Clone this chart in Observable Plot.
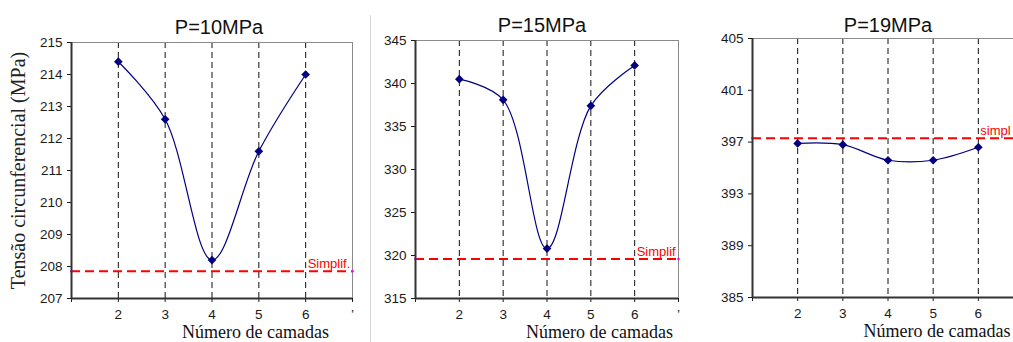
<!DOCTYPE html>
<html>
<head>
<meta charset="utf-8">
<script src="https://cdn.jsdelivr.net/npm/d3@7"></script>
<script src="https://cdn.jsdelivr.net/npm/@observablehq/plot@0.6"></script>
<style>
  html, body { margin: 0; padding: 0; background: #fff; overflow: hidden; }
  #wrap { position: relative; width: 1013px; height: 342px; overflow: hidden; background: #fff; }
  .panel { position: absolute; top: 0; }
  .panel svg { max-width: none !important; }
  #sep { position: absolute; left: 370px; top: 15px; width: 0; height: 327px; border-left: 1px solid #d8d8d8; }
</style>
</head>
<body>
<div id="wrap"><div id="sep"></div></div>
<script>
// ---- data ----
const camadas = [2, 3, 4, 5, 6];
const tensao10 = [214.4, 212.6, 208.2, 211.6, 214.0];
const tensao15 = [340.5, 338.1, 320.8, 337.4, 342.1];
const tensao19 = [396.9, 396.8, 395.6, 395.6, 396.6];
const simplif = [207.85, 319.6, 397.3];
const simplifLabels = ["Simplif.", "Simplif", "simpl"];
const titles = ["P=10MPa", "P=15MPa", "P=19MPa"];
const yTicks10 = [207, 208, 209, 210, 211, 212, 213, 214, 215];
const yTicks15 = [315, 320, 325, 330, 335, 340, 345];
const yTicks19 = [385, 389, 393, 397, 401, 405];
const xTicks = [1, 2, 3, 4, 5, 6, 7];
const xTickLabels = ["", "2", "3", "4", "5", "6", "\u2019"];
const xTickLabelsLast = ["", "2", "3", "4", "5", "6", ""];
const xDomain = [1, 7];
const yLabel = "Tensão circunferencial (MPa)";
const xLabel = "Número de camadas";

const SANS = "Liberation Sans, Arial, sans-serif";
const SERIF = "Liberation Serif, Times New Roman, serif";

const panels = [
  {values: tensao10, yTicks: yTicks10, simp: simplif[0], simpLabel: simplifLabels[0], title: titles[0], xLabs: xTickLabels,
   left: 0, width: 360, mL: 71, mR: 8, mT: 42, mB: 44, titleDx: 7, titleDy: -15, xlDx: 43.5, yLabel: true},
  {values: tensao15, yTicks: yTicks15, simp: simplif[1], simpLabel: simplifLabels[1], title: titles[1], xLabs: xTickLabels,
   left: 372, width: 310, mL: 43, mR: 4, mT: 40, mB: 44, titleDx: -5, titleDy: -15, xlDx: 52.5, yLabel: false},
  {values: tensao19, yTicks: yTicks19, simp: simplif[2], simpLabel: simplifLabels[2], title: titles[2], xLabs: xTickLabelsLast,
   left: 690, width: 337, mL: 62, mR: 4, mT: 38, mB: 45, titleDx: 0, titleDy: -13, xlDx: 49, yLabel: false}
];

const wrap = document.getElementById("wrap");

for (const p of panels) {
  const data = camadas.map((c, i) => ({c, v: p.values[i]}));
  const yDomain = [p.yTicks[0], p.yTicks[p.yTicks.length - 1]];
  const marks = [
    Plot.ruleX(camadas, {stroke: "#111", strokeWidth: 1, strokeDasharray: "6,4"}),
    Plot.ruleY([yDomain[1]], {stroke: "#8a8a8a", strokeWidth: 1}),
    Plot.ruleX([xDomain[1]], {stroke: "#8a8a8a", strokeWidth: 1}),
    Plot.ruleY([p.simp], {stroke: "#ff0000", strokeWidth: 2, strokeDasharray: "9,5"}),
    Plot.dot([xDomain[0], xDomain[1]], {x: d => d, y: () => p.simp, r: 1.3, fill: "#ff00ff"}),
    Plot.text([p.simp], {x: () => camadas[camadas.length - 1], y: d => d, text: () => p.simpLabel,
      textAnchor: "start", lineAnchor: "bottom", dx: 2, dy: -3, fill: "#ff0000",
      fontSize: 13, fontFamily: SANS, clip: true}),
    Plot.line(data, {x: "c", y: "v", stroke: "#000080", strokeWidth: 1.2, curve: "catmull-rom"}),
    Plot.dot(data, {x: "c", y: "v", symbol: "diamond2", r: 3.9, fill: "#000080", stroke: null}),
    Plot.axisY({ticks: p.yTicks, tickSize: 4, tickPadding: 5, fontSize: 13.5, fontFamily: SANS,
      color: "#1a1a1a", label: null, tickFormat: d => String(d)}),
    Plot.axisX({ticks: xTicks, tickSize: 4, tickPadding: 7, fontSize: 13.5, fontFamily: SANS,
      color: "#1a1a1a", label: null, tickFormat: d => p.xLabs[xTicks.indexOf(d)]}),
    Plot.ruleX([xDomain[0]], {stroke: "#333", strokeWidth: 2}),
    Plot.ruleY([yDomain[0]], {stroke: "#333", strokeWidth: 2}),
    Plot.text([p.title], {frameAnchor: "top", dy: p.titleDy, dx: p.titleDx, lineAnchor: "middle",
      textAnchor: "middle", fontSize: 20, fontFamily: SANS, fill: "#111"}),
    Plot.text([xLabel], {frameAnchor: "bottom", dy: 34, dx: p.xlDx, lineAnchor: "middle",
      textAnchor: "middle", fontSize: 18, fontFamily: SERIF, fill: "#111"})
  ];
  if (p.yLabel) {
    marks.push(Plot.text([yLabel], {frameAnchor: "left", rotate: -90, dx: -53, lineAnchor: "middle",
      textAnchor: "middle", fontSize: 20, fontFamily: SERIF, fill: "#222"}));
  }
  const chart = Plot.plot({
    width: p.width,
    height: 342,
    marginLeft: p.mL, marginRight: p.mR, marginTop: p.mT, marginBottom: p.mB,
    x: {domain: xDomain},
    y: {domain: yDomain},
    style: {background: "transparent", overflow: "visible"},
    marks
  });
  const div = document.createElement("div");
  div.className = "panel";
  div.style.left = p.left + "px";
  div.appendChild(chart);
  wrap.appendChild(div);
}
</script>
</body>
</html>
